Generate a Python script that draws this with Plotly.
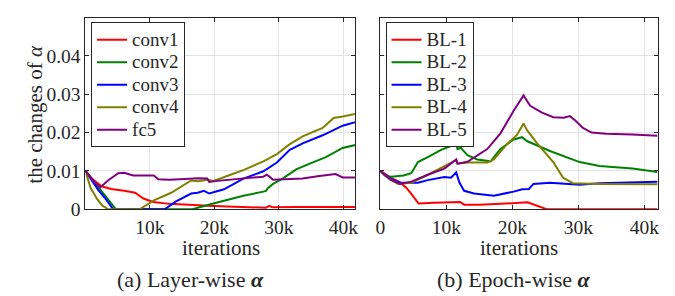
import plotly.graph_objects as go

# ---------------- data (iterations, change of alpha) ----------------
conv1_x = [0, 1000, 2500, 4000, 6000, 7700, 9000, 10500, 13000, 16000, 19000, 22000, 25000, 28000, 28500, 29000, 33000, 38000, 42000]
conv1_y = [0.0100, 0.0080, 0.0060, 0.0053, 0.0048, 0.0043, 0.0028, 0.0019, 0.0014, 0.0011, 0.0009, 0.0007, 0.0005, 0.0004, 0.0009, 0.0005, 0.0006, 0.0007, 0.0006]

conv2_x = [0, 1000, 2000, 3000, 4000, 4700, 16600, 19400, 22000, 24500, 27600, 28000, 28300, 29100, 30700, 32700, 34800, 37300, 39900, 42000]
conv2_y = [0.0100, 0.0078, 0.0057, 0.0037, 0.0015, 0.0, 0.0, 0.0013, 0.0025, 0.0035, 0.0046, 0.0048, 0.0055, 0.0066, 0.0081, 0.0104, 0.0119, 0.0136, 0.0160, 0.0168]

conv3_x = [0, 1000, 2000, 3000, 4300, 12300, 14000, 16400, 17400, 18400, 19200, 21500, 24500, 27600, 29700, 31700, 33700, 36800, 39900, 42000]
conv3_y = [0.0100, 0.0074, 0.0050, 0.0030, 0.0, 0.0, 0.0020, 0.0041, 0.0043, 0.0048, 0.0041, 0.0052, 0.0080, 0.0099, 0.0122, 0.0155, 0.0172, 0.0193, 0.0218, 0.0228]

conv4_x = [0, 800, 1800, 2600, 3500, 8400, 10700, 13300, 16400, 17500, 18900, 19900, 22500, 24500, 27600, 29700, 31700, 33700, 36800, 38500, 39900, 42000]
conv4_y = [0.0100, 0.0056, 0.0027, 0.0010, 0.0, 0.0, 0.0024, 0.0043, 0.0075, 0.0073, 0.0077, 0.0074, 0.0090, 0.0102, 0.0125, 0.0144, 0.0170, 0.0190, 0.0212, 0.0238, 0.0242, 0.0249]

fc5_x = [0, 1200, 2300, 3500, 5100, 6000, 7400, 9700, 10600, 11300, 13000, 15400, 17500, 18900, 19200, 20500, 23500, 25500, 27600, 28100, 28500, 29100, 31000, 33700, 36000, 37800, 38800, 39900, 42000]
fc5_y = [0.0100, 0.0075, 0.0057, 0.0075, 0.0094, 0.0095, 0.0088, 0.0088, 0.0088, 0.0078, 0.0077, 0.0079, 0.0081, 0.0080, 0.0071, 0.0074, 0.0078, 0.0082, 0.0085, 0.0090, 0.0086, 0.0077, 0.0078, 0.0080, 0.0086, 0.0090, 0.0092, 0.0083, 0.0083]

bl1_x = [0, 1500, 3000, 4000, 4700, 5500, 5800, 8200, 11700, 12100, 12700, 15000, 18200, 21700, 22300, 25200, 42000]
bl1_y = [0.0100, 0.0083, 0.0070, 0.0055, 0.0040, 0.0020, 0.0015, 0.0017, 0.0018, 0.0019, 0.0012, 0.0012, 0.0014, 0.0019, 0.0018, 0.0, 0.0]

bl2_x = [0, 800, 1700, 3500, 4700, 5700, 7200, 9200, 10700, 11500, 11700, 12200, 13200, 14700, 16700, 18200, 20200, 21500, 22200, 25700, 30200, 33200, 38200, 42000]
bl2_y = [0.0100, 0.0086, 0.0085, 0.0088, 0.0094, 0.0123, 0.0136, 0.0155, 0.0165, 0.0172, 0.0157, 0.0160, 0.0141, 0.0130, 0.0125, 0.0157, 0.0182, 0.0188, 0.0178, 0.0152, 0.0123, 0.0113, 0.0106, 0.0097]

bl3_x = [0, 1500, 3000, 5700, 7200, 9700, 10700, 11500, 12000, 12700, 14200, 17200, 20200, 21500, 22500, 23200, 25700, 30200, 33200, 42000]
bl3_y = [0.0100, 0.0080, 0.0069, 0.0069, 0.0076, 0.0084, 0.0082, 0.0096, 0.0069, 0.0048, 0.0041, 0.0035, 0.0046, 0.0052, 0.0053, 0.0066, 0.0069, 0.0064, 0.0068, 0.0072]

bl4_x = [0, 1500, 2700, 4700, 7200, 9700, 11500, 11700, 13200, 16200, 17200, 19200, 20700, 21700, 22200, 23700, 26200, 27700, 29200, 33200, 42000]
bl4_y = [0.0100, 0.0078, 0.0066, 0.0069, 0.0090, 0.0112, 0.0128, 0.0119, 0.0122, 0.0122, 0.0130, 0.0170, 0.0194, 0.0224, 0.0207, 0.0173, 0.0123, 0.0082, 0.0068, 0.0066, 0.0065]

bl5_x = [0, 1500, 3000, 4700, 7200, 9700, 11500, 11700, 13200, 14700, 16200, 18200, 20200, 21700, 22700, 24500, 26200, 27800, 28700, 29500, 30700, 32000, 34200, 38200, 42000]
bl5_y = [0.0100, 0.0078, 0.0066, 0.0072, 0.0090, 0.0106, 0.0130, 0.0119, 0.0124, 0.0140, 0.0157, 0.0198, 0.0257, 0.0297, 0.0270, 0.0252, 0.0240, 0.0239, 0.0243, 0.0232, 0.0212, 0.0200, 0.0197, 0.0195, 0.0192]

layer_names = ["conv1", "conv2", "conv3", "conv4", "fc5"]
epoch_names = ["BL-1", "BL-2", "BL-3", "BL-4", "BL-5"]
colors = ["#ff0000", "#008000", "#0000ff", "#808000", "#800080"]

left_x_ticks = [10000, 20000, 30000, 40000]
left_x_labels = ["10k", "20k", "30k", "40k"]
right_x_ticks = [0, 10000, 20000, 30000, 40000]
right_x_labels = ["0", "10k", "20k", "30k", "40k"]
y_ticks = [0, 0.01, 0.02, 0.03, 0.04]
y_labels = ["0", "0.01", "0.02", "0.03", "0.04"]

# ---------------- figure ----------------
FONT = "Liberation Serif"
TXT = "#262626"
fig = go.Figure()

left_series = [(conv1_x, conv1_y), (conv2_x, conv2_y), (conv3_x, conv3_y), (conv4_x, conv4_y), (fc5_x, fc5_y)]
right_series = [(bl1_x, bl1_y), (bl2_x, bl2_y), (bl3_x, bl3_y), (bl4_x, bl4_y), (bl5_x, bl5_y)]

def legend_label(name):
    # larger visible text while the legend row spacing follows the legend font size
    return "<span style='font-size:19px'>" + name + "</span>"

for (xs, ys), name, c in zip(left_series, layer_names, colors):
    fig.add_trace(go.Scatter(x=xs, y=ys, name=legend_label(name), mode="lines",
                             line=dict(color=c, width=2),
                             xaxis="x", yaxis="y", legend="legend"))
for (xs, ys), name, c in zip(right_series, epoch_names, colors):
    fig.add_trace(go.Scatter(x=xs, y=ys, name=legend_label(name), mode="lines",
                             line=dict(color=c, width=2),
                             xaxis="x2", yaxis="y2", legend="legend2"))

W, H = 675, 296
y_dom = [1 - 209 / H, 1 - 10 / H]
axis_common = dict(showline=True, linecolor=TXT, linewidth=1, mirror="ticks",
                   ticks="inside", ticklen=4, tickcolor=TXT,
                   showgrid=True, gridcolor="#e3e3e3", gridwidth=1, zeroline=False,
                   tickfont=dict(family=FONT, size=19.5, color=TXT))
legend_common = dict(xanchor="left", yanchor="top",
                     bgcolor="white", bordercolor=TXT, borderwidth=1,
                     font=dict(family=FONT, size=15, color=TXT),
                     itemwidth=30, tracegroupgap=0)

def text_ann(text, px, py, size=21, angle=0):
    return dict(text=text, x=px / W, y=1 - py / H, xref="paper", yref="paper",
                showarrow=False, xanchor="center", yanchor="middle", textangle=angle,
                font=dict(family=FONT, size=size, color=TXT))

fig.update_layout(
    width=W, height=H,
    margin=dict(l=0, r=0, t=0, b=0),
    paper_bgcolor="white", plot_bgcolor="white",
    font=dict(family=FONT, color=TXT),
    xaxis=dict(domain=[73.3 / W, 346 / W], range=[0, 41800],
               tickvals=left_x_ticks, ticktext=left_x_labels,
               anchor="y", **axis_common),
    yaxis=dict(domain=y_dom, range=[0, 0.05], tickvals=y_ticks, ticktext=y_labels,
               anchor="x", **axis_common),
    xaxis2=dict(domain=[371.7 / W, 652.3 / W], range=[0, 42000],
                tickvals=right_x_ticks, ticktext=right_x_labels,
                anchor="y2", **axis_common),
    yaxis2=dict(domain=y_dom, range=[0, 0.05], tickvals=y_ticks, showticklabels=False,
                anchor="x2", **axis_common),
    legend=dict(x=79 / W, y=1 - 15 / H, **legend_common),
    legend2=dict(x=377 / W, y=1 - 15 / H, **legend_common),
    showlegend=True,
    annotations=[
        text_ann("the changes of <i>α</i>", 22, 110, 21, -90),
        text_ann("iterations", 210, 249, 21),
        text_ann("iterations", 512, 249, 21),
        text_ann("(a) Layer-wise <b><i>α</i></b>", 180, 282, 22),
        text_ann("(b) Epoch-wise <b><i>α</i></b>", 507, 282, 22),
    ],
)

fig.write_html("out.html")
